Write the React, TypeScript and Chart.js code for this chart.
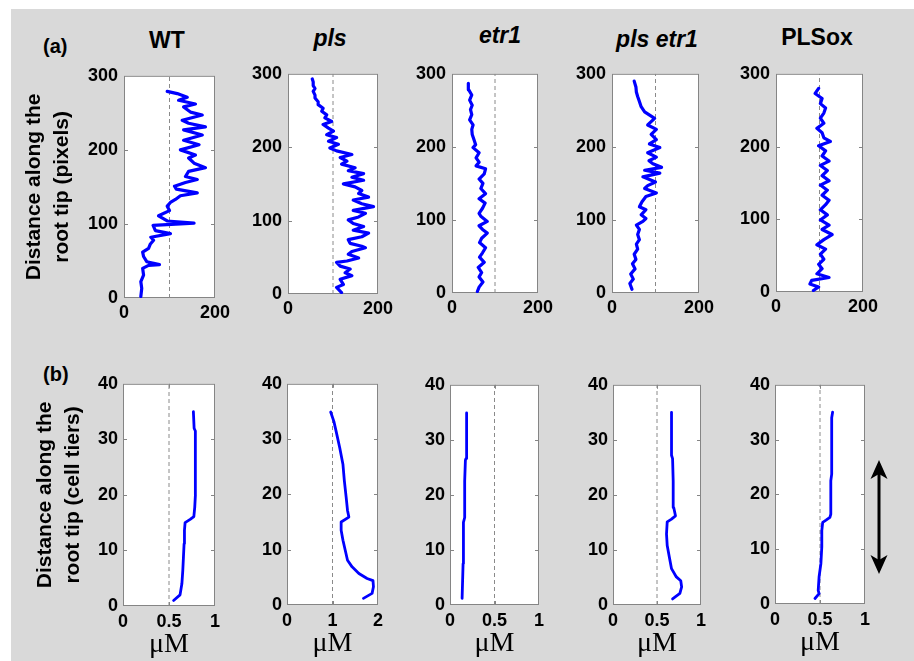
import React, { useEffect, useRef } from "react";
import { Chart, registerables } from "chart.js";

Chart.register(...registerables);

// ------------------------------------------------------------------
// DATA
// ------------------------------------------------------------------
const panelNames = ["WT", "pls", "etr1", "pls etr1", "PLSox"];
const panelItalic = [false, true, true, true, false];

// tick values
const aYTicks = [0, 100, 200, 300];
const aXTicks = [0, 200];
const bYTicks = [0, 10, 20, 30, 40];
const bXTicks = [0, 0.5, 1];
const bXTicksPls = [0, 1, 2];

// reference (dashed) lines
const aRef = [100, 100, 100, 100, 100];
const bRef = [0.5, 1, 0.5, 0.5, 0.5];

// Row (a): distance along root tip (pixels) vs signal
const wtDist = [2, 13, 22, 31, 40, 44, 45, 49, 56, 62, 67, 73, 78, 82, 87, 91, 98, 101, 104, 111, 118, 124, 129, 133, 138, 142, 147, 151, 156, 160, 164, 171, 176, 182, 189, 193, 200, 207, 213, 220, 227, 231, 236, 240, 247, 251, 258, 262, 267, 271, 276, 279];
const wtVal = [37, 39, 37, 43, 41, 54, 78, 50, 43, 41, 54, 58, 65, 59, 102, 69, 64, 154, 95, 76, 100, 95, 102, 113, 124, 161, 115, 111, 135, 161, 135, 142, 179, 154, 142, 157, 124, 165, 131, 172, 131, 179, 142, 128, 172, 146, 131, 157, 120, 139, 117, 95];

const plsDist = [2, 9, 13, 20, 25, 29, 34, 38, 43, 45, 49, 54, 58, 63, 65, 69, 74, 78, 83, 87, 92, 96, 101, 105, 110, 114, 119, 123, 128, 132, 137, 141, 146, 150, 155, 159, 164, 168, 172, 177, 181, 186, 190, 195, 199, 204, 208, 213, 217, 222, 226, 231, 235, 240, 244, 249, 253, 258, 262, 267, 271, 276, 280, 284, 289, 293];
const plsVal = [119, 108, 123, 116, 142, 127, 138, 116, 108, 131, 157, 134, 142, 172, 164, 138, 134, 164, 179, 145, 168, 145, 134, 157, 172, 145, 190, 164, 145, 179, 157, 164, 149, 123, 168, 142, 168, 134, 149, 119, 131, 116, 142, 108, 93, 112, 90, 108, 86, 101, 90, 78, 97, 82, 86, 75, 78, 67, 67, 60, 60, 56, 60, 56, 56, 54];

const etrDist = [2, 8, 15, 22, 28, 35, 42, 49, 55, 62, 69, 75, 82, 87, 92, 98, 105, 109, 116, 123, 129, 136, 143, 150, 156, 163, 170, 174, 179, 185, 192, 199, 203, 210, 217, 224, 230, 237, 244, 251, 257, 264, 271, 278, 287];
const etrVal = [59, 63, 72, 63, 69, 61, 75, 64, 71, 78, 64, 69, 82, 71, 63, 82, 67, 63, 71, 77, 63, 78, 67, 72, 63, 75, 78, 56, 63, 56, 63, 49, 55, 51, 47, 46, 49, 41, 46, 43, 47, 41, 46, 39, 38];

const plsEtrDist = [5, 13, 19, 26, 33, 40, 46, 53, 60, 67, 73, 80, 87, 93, 98, 102, 107, 114, 118, 125, 132, 137, 143, 147, 152, 159, 164, 168, 172, 177, 181, 186, 192, 199, 204, 210, 217, 224, 230, 239, 248, 255, 262, 269, 275, 282, 290];
const plsEtrVal = [46, 41, 49, 43, 53, 47, 55, 51, 59, 56, 63, 59, 63, 56, 71, 78, 67, 78, 63, 69, 78, 102, 75, 82, 100, 71, 110, 75, 114, 94, 85, 102, 82, 110, 86, 102, 90, 102, 82, 98, 75, 67, 63, 59, 56, 55, 51];

const plsoxDist = [2, 7, 11, 16, 20, 25, 32, 38, 45, 52, 59, 65, 72, 79, 86, 92, 99, 106, 113, 120, 126, 133, 140, 147, 153, 160, 167, 174, 180, 187, 194, 201, 207, 212, 219, 225, 232, 239, 246, 253, 259, 266, 273, 280];
const plsoxVal = [86, 98, 78, 82, 122, 94, 106, 98, 110, 102, 114, 94, 110, 129, 106, 122, 102, 118, 102, 114, 122, 106, 118, 102, 122, 106, 118, 102, 122, 106, 114, 98, 125, 110, 106, 94, 110, 102, 110, 114, 102, 106, 90, 98];

// Row (b): distance along root tip (cell tiers) vs concentration (µM)
const wtTier = [1, 2, 4, 6.4, 8.8, 11.2, 13.6, 15, 15.6, 16.1, 17.8, 20, 25.5, 31.5, 32, 35];
const wtConc = [0.55, 0.62, 0.64, 0.65, 0.657, 0.664, 0.668, 0.675, 0.73, 0.77, 0.78, 0.787, 0.79, 0.783, 0.773, 0.765];

const plsTier = [1.2, 2.1, 3.3, 4.4, 4.8, 5.7, 6.9, 8.1, 9.9, 11.7, 13.5, 15, 15.9, 17.1, 19.5, 22.5, 25.4, 28.4, 31.4, 33.2, 34.9];
const plsConc = [1.68, 1.87, 1.9, 1.89, 1.76, 1.58, 1.43, 1.33, 1.28, 1.23, 1.19, 1.19, 1.36, 1.33, 1.3, 1.26, 1.23, 1.16, 1.08, 1.03, 0.96];

const etrTier = [1.2, 7.5, 15, 15.9, 22.5, 26.3, 26.6, 30.8, 31.4, 34.9];
const etrConc = [0.136, 0.147, 0.151, 0.165, 0.165, 0.173, 0.18, 0.18, 0.19, 0.19];

const plsEtrTier = [1.1, 2.1, 3.3, 4.4, 5.1, 6.6, 8.7, 10.8, 12.9, 15.1, 15.6, 16.2, 17.7, 22.5, 26.6, 27.2, 35];
const plsEtrConc = [0.677, 0.76, 0.78, 0.77, 0.72, 0.665, 0.64, 0.616, 0.608, 0.616, 0.665, 0.71, 0.69, 0.684, 0.677, 0.665, 0.665];

const plsoxTier = [1, 1.9, 2.5, 5, 7.4, 10.4, 13.4, 14.9, 15.3, 15.8, 16.4, 22.5, 23.7, 34, 35];
const plsoxConc = [0.444, 0.49, 0.48, 0.49, 0.51, 0.52, 0.52, 0.53, 0.567, 0.61, 0.62, 0.62, 0.63, 0.63, 0.64];

const aSeries = [
  [wtVal, wtDist],
  [plsVal, plsDist],
  [etrVal, etrDist],
  [plsEtrVal, plsEtrDist],
  [plsoxVal, plsoxDist],
];
const bSeries = [
  [wtConc, wtTier],
  [plsConc, plsTier],
  [etrConc, etrTier],
  [plsEtrConc, plsEtrTier],
  [plsoxConc, plsoxTier],
];
const bXTickSets = [bXTicks, bXTicksPls, bXTicks, bXTicks, bXTicks];

const yTitleA = ["Distance along the", "root tip (pixels)"];
const yTitleB = ["Distance along the", "root tip (cell tiers)"];
const xTitleB = "\u03bcM";

// ------------------------------------------------------------------
// LAYOUT (plot-area rectangles: left, right, top, bottom)
// ------------------------------------------------------------------
const rowARects: [number, number, number, number][] = [
  [124, 215, 73, 298],
  [288, 378, 71, 294],
  [452, 538, 71, 293],
  [612, 699, 71, 293],
  [776, 863, 71, 292],
];
const rowBRects: [number, number, number, number][] = [
  [123, 215, 382, 606],
  [287, 378, 382, 605],
  [450, 539, 383, 605],
  [613, 701, 383, 605],
  [775, 865, 383, 604],
];
const titleCenters = [167, 330, 500, 657, 817];
const titleBaselines = [48, 46, 43, 47, 45];

const SANS = "'Liberation Sans', Arial, Helvetica, sans-serif";
const SERIF = "'Liberation Serif', 'Times New Roman', serif";

const framePlugin = {
  id: "panelFrame",
  beforeDraw(chart: any) {
    const { ctx, chartArea: a } = chart;
    ctx.save();
    ctx.fillStyle = "#ffffff";
    ctx.fillRect(a.left, a.top, a.right - a.left, a.bottom - a.top);
    ctx.restore();
  },
  beforeDatasetsDraw(chart: any) {
    const { ctx, chartArea: a, scales } = chart;
    ctx.save();
    ctx.strokeStyle = "#858585";
    ctx.lineWidth = 1;
    ctx.strokeRect(a.left + 0.5, a.top + 0.5, a.right - a.left - 1, a.bottom - a.top - 1);
    const tl = 4;
    ctx.beginPath();
    for (const t of scales.y.ticks) {
      const p = Math.round(scales.y.getPixelForValue(t.value)) + 0.5;
      if (p <= a.top + 1 || p >= a.bottom - 1) continue;
      ctx.moveTo(a.left, p);
      ctx.lineTo(a.left + tl, p);
      ctx.moveTo(a.right, p);
      ctx.lineTo(a.right - tl, p);
    }
    for (const t of scales.x.ticks) {
      const p = Math.round(scales.x.getPixelForValue(t.value)) + 0.5;
      if (p <= a.left + 1 || p >= a.right - 1) continue;
      ctx.moveTo(p, a.bottom);
      ctx.lineTo(p, a.bottom - tl);
      ctx.moveTo(p, a.top);
      ctx.lineTo(p, a.top + tl);
    }
    ctx.stroke();
    ctx.restore();
  },
};

type Spec = {
  rect: [number, number, number, number];
  xs: number[];
  ys: number[];
  refX: number;
  xTicks: number[];
  yTicks: number[];
  lineWidth: number;
  xH: number;
  xTickPad: number;
  yTickPad: number;
  yTitle?: string[];
  yTitlePad?: number;
  xTitle?: string;
};

function Panel({ spec }: { spec: Spec }) {
  const ref = useRef<HTMLCanvasElement>(null);
  const [L, R, T, B] = spec.rect;
  const padT = 14;
  const padR = 26;
  const yW = spec.yTitle ? L - 14 : 50;
  const cLeft = L - yW;
  const cTop = T - padT;
  const cW = yW + (R - L) + padR;
  const cH = padT + (B - T) + spec.xH;

  useEffect(() => {
    const tickFont = { family: SANS, size: 18, weight: "bold" as const };
    const xMin = spec.xTicks[0];
    const xMax = spec.xTicks[spec.xTicks.length - 1];
    const yMin = spec.yTicks[0];
    const yMax = spec.yTicks[spec.yTicks.length - 1];
    const chart = new Chart(ref.current as HTMLCanvasElement, {
      type: "scatter",
      data: {
        datasets: [
          {
            data: spec.xs.map((x, i) => ({ x, y: spec.ys[i] })),
            showLine: true,
            borderColor: "#0000ff",
            backgroundColor: "#0000ff",
            borderWidth: spec.lineWidth,
            pointRadius: 0,
            tension: 0,
            borderJoinStyle: "round",
            borderCapStyle: "round",
          },
          {
            data: [
              { x: spec.refX, y: yMin },
              { x: spec.refX, y: yMax },
            ],
            showLine: true,
            borderColor: "#8a8a8a",
            borderWidth: 1,
            borderDash: [4, 3],
            pointRadius: 0,
          },
        ],
      },
      options: {
        responsive: false,
        animation: false,
        events: [],
        layout: { padding: { top: padT, right: padR, left: 0, bottom: 0 } },
        plugins: { legend: { display: false }, tooltip: { enabled: false }, title: { display: false } },
        scales: {
          x: {
            type: "linear",
            min: xMin,
            max: xMax,
            grid: { display: false, drawTicks: false },
            border: { display: false },
            afterBuildTicks: (s: any) => {
              s.ticks = spec.xTicks.map((v) => ({ value: v }));
            },
            ticks: {
              font: tickFont,
              color: "#000",
              padding: spec.xTickPad,
              maxRotation: 0,
              autoSkip: false,
              callback: (v: any) => String(v),
            },
            title: spec.xTitle
              ? {
                  display: true,
                  text: spec.xTitle,
                  color: "#000",
                  font: { family: SERIF, size: 28, weight: "normal", lineHeight: 1.2 },
                  padding: { top: 0, bottom: 0 },
                }
              : { display: false },
            afterFit: (s: any) => {
              s.height = spec.xH;
            },
          },
          y: {
            type: "linear",
            min: yMin,
            max: yMax,
            grid: { display: false, drawTicks: false },
            border: { display: false },
            afterBuildTicks: (s: any) => {
              s.ticks = spec.yTicks.map((v) => ({ value: v }));
            },
            ticks: {
              font: tickFont,
              color: "#000",
              padding: spec.yTickPad,
              autoSkip: false,
              callback: (v: any) => String(v),
            },
            title: spec.yTitle
              ? {
                  display: true,
                  text: spec.yTitle,
                  color: "#000",
                  font: { family: SANS, size: 21, weight: "bold", lineHeight: 1.3 },
                  padding: { top: spec.yTitlePad || 0, bottom: 0 },
                }
              : { display: false },
            afterFit: (s: any) => {
              s.width = yW;
            },
          },
        },
      } as any,
      plugins: [framePlugin],
    });
    return () => chart.destroy();
  }, []);

  return (
    <canvas
      ref={ref}
      width={cW}
      height={cH}
      style={{ position: "absolute", left: cLeft, top: cTop, width: cW, height: cH }}
    />
  );
}

export default function App() {
  const aSpecs: Spec[] = aSeries.map(([xs, ys], i) => ({
    rect: rowARects[i],
    xs,
    ys,
    refX: aRef[i],
    xTicks: aXTicks,
    yTicks: aYTicks,
    lineWidth: 3.2,
    xH: 30,
    xTickPad: 4,
    yTickPad: 6,
    yTitle: i === 0 ? yTitleA : undefined,
    yTitlePad: 7,
  }));
  const bSpecs: Spec[] = bSeries.map(([xs, ys], i) => ({
    rect: rowBRects[i],
    xs,
    ys,
    refX: bRef[i],
    xTicks: bXTickSets[i],
    yTicks: bYTicks,
    lineWidth: 2.8,
    xH: 55,
    xTickPad: 5,
    yTickPad: 5,
    yTitle: i === 0 ? yTitleB : undefined,
    yTitlePad: 18,
    xTitle: xTitleB,
  }));

  return (
    <div
      style={{
        position: "fixed",
        left: 0,
        top: 0,
        width: 914,
        height: 661,
        background: "#ffffff",
        overflow: "hidden",
        fontFamily: SANS,
      }}
    >
      <div style={{ position: "absolute", left: 11, top: 9, width: 903, height: 652, background: "#d9d9d9" }} />
      {panelNames.map((n, i) => (
        <div
          key={n}
          style={{
            position: "absolute",
            left: titleCenters[i] - 100,
            width: 200,
            top: titleBaselines[i] - 19.5,
            textAlign: "center",
            fontSize: 23,
            lineHeight: "23px",
            fontWeight: "bold",
            fontStyle: panelItalic[i] ? "italic" : "normal",
            color: "#000",
            whiteSpace: "nowrap",
          }}
        >
          {n}
        </div>
      ))}
      <div style={{ position: "absolute", left: 43, top: 36, fontSize: 20, lineHeight: "20px", fontWeight: "bold" }}>(a)</div>
      <div style={{ position: "absolute", left: 43, top: 364, fontSize: 20, lineHeight: "20px", fontWeight: "bold" }}>(b)</div>
      {aSpecs.map((s, i) => (
        <Panel key={"a" + i} spec={s} />
      ))}
      {bSpecs.map((s, i) => (
        <Panel key={"b" + i} spec={s} />
      ))}
      <svg style={{ position: "absolute", left: 860, top: 450 }} width={40} height={135}>
        <line x1={19} y1={20} x2={19} y2={113} stroke="#000" strokeWidth={3} />
        <path d="M19,10 L27.5,29 L19,24 L10.5,29 Z" fill="#000" />
        <path d="M19,124 L27.5,105 L19,110 L10.5,105 Z" fill="#000" />
      </svg>
    </div>
  );
}
